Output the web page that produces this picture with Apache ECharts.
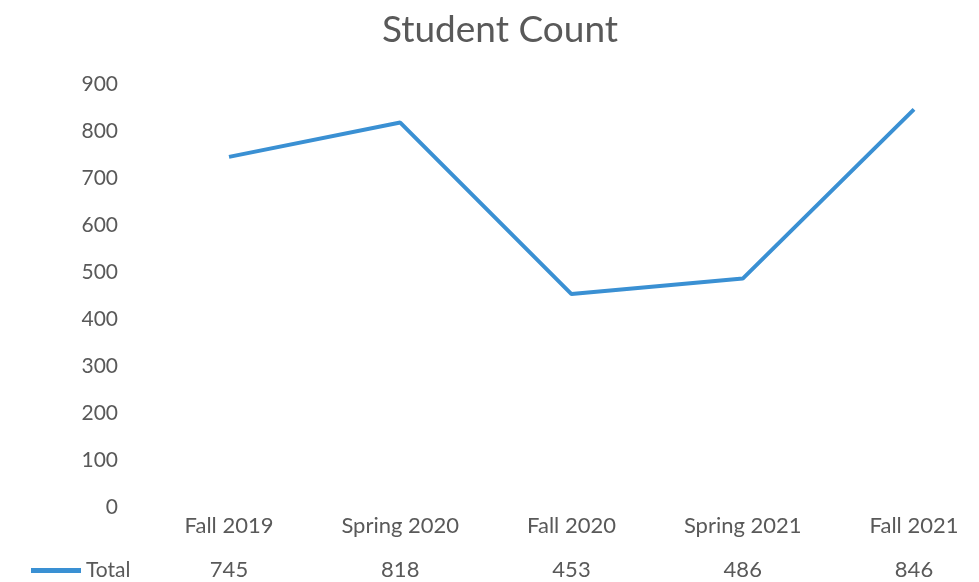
<!DOCTYPE html>
<html><head><meta charset="utf-8">
<script src="https://cdn.jsdelivr.net/npm/echarts@6/dist/echarts.min.js"></script>
<style>html,body{margin:0;padding:0;background:#fff}#c{width:979px;height:582px}</style>
</head><body><div id="c"></div>
<script>
const categories = ['Fall 2019','Spring 2020','Fall 2020','Spring 2021','Fall 2021'];
const totals = [745, 818, 453, 486, 846];
const seriesName = 'Total';
const yTicks = {min: 0, max: 900, interval: 100};

const font = 'Lato, "Noto Sans", sans-serif';
const grey = '#595959';
const blue = '#3a90d3';
const chart = echarts.init(document.getElementById('c'));
chart.setOption({
  animation: false,
  title: {text: 'Student Count', left: 495, top: 7, textAlign: 'center',
    textStyle: {fontFamily: font, fontSize: 37, fontWeight: 'normal', color: grey}},
  legend: {left: 26, top: 555, itemWidth: 50, itemHeight: 5, icon: 'rect', itemGap: 4,
    data: [seriesName], textStyle: {fontFamily: font, fontSize: 21, color: grey}},
  grid: {left: 229, top: 84, right: 65, bottom: 75},
  xAxis: [
    {type: 'category', data: categories, boundaryGap: false,
     axisLine: {show: false}, axisTick: {show: false},
     axisLabel: {fontFamily: font, fontSize: 22, color: grey, margin: 8}},
    {type: 'category', data: totals.map(String), position: 'bottom', offset: 44, boundaryGap: false,
     axisLine: {show: false}, axisTick: {show: false},
     axisLabel: {fontFamily: font, fontSize: 22, color: grey, margin: 8}}
  ],
  yAxis: {type: 'value', min: yTicks.min, max: yTicks.max, interval: yTicks.interval,
    axisLine: {show: false}, axisTick: {show: false}, splitLine: {show: false},
    axisLabel: {fontFamily: font, fontSize: 21, color: grey, margin: 111}},
  series: [{name: seriesName, type: 'line', data: totals, showSymbol: false,
    lineStyle: {color: blue, width: 4}, itemStyle: {color: blue}}]
});
</script></body></html>
